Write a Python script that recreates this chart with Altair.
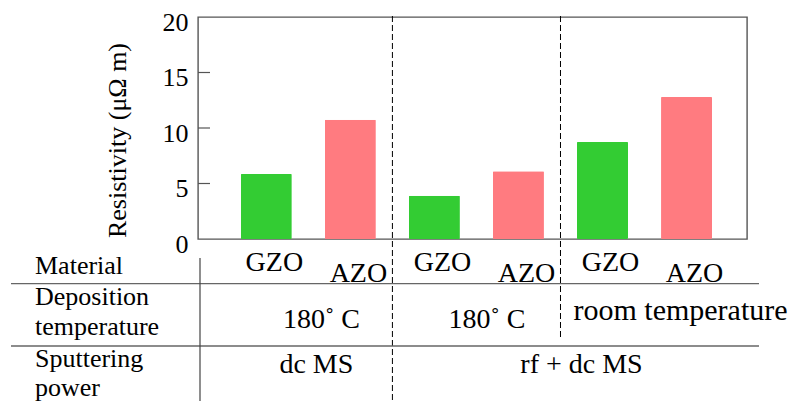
import altair as alt
import pandas as pd

# ---- data ----
positions = [1, 2, 3, 4, 5, 6]
materials = ["GZO", "AZO", "GZO", "AZO", "GZO", "AZO"]
resistivity = [5.85, 10.75, 3.9, 6.1, 8.75, 12.8]
y_ticks = [0, 5, 10, 15, 20]
separators = [2.5, 4.5]
temp_labels = ["180˚ C", "180˚ C", "room temperature"]
temp_centers = [1.5, 3.5, 5.5]
power_labels = ["dc MS", "rf + dc MS"]
power_centers = [1.5, 4.5]

FONT = "'Liberation Serif', 'Times New Roman', 'DejaVu Serif', serif"
W, H = 549, 222

bars_df = pd.DataFrame({"pos": positions, "material": materials, "value": resistivity})
xs = alt.Scale(domain=[0.246, 6.66], nice=False, zero=False)
ys = alt.Scale(domain=[0, 20], nice=False)
pix = alt.Scale(domain=[0, H], range=[0, H], nice=False, zero=False)

bars = alt.Chart(bars_df).mark_bar(size=51, cornerRadius=1).encode(
    x=alt.X("pos:Q", scale=xs, axis=None),
    y=alt.Y("value:Q", scale=ys,
            axis=alt.Axis(values=y_ticks, ticks=False, domain=False, grid=False,
                          labelFont=FONT, labelFontSize=26, labelColor="black",
                          labelPadding=10, labelOffset=5,
                          title="Resistivity (μΩ m)", titleFont=FONT, titleFontSize=26,
                          titleFontWeight="normal", titleColor="black",
                          titleX=-81, titleY=123, titleAngle=270,
                          titleAlign="center", titleBaseline="middle")),
    color=alt.Color("material:N", scale=alt.Scale(domain=["GZO", "AZO"],
                                                  range=["#33CC33", "#FF7B80"]), legend=None),
)

# inward tick marks
ticks_df = pd.DataFrame({"t": [5, 10, 15]})
ticks = alt.Chart(ticks_df).mark_rule(color="#555", strokeWidth=1.2).encode(
    y=alt.Y("t:Q", scale=ys, axis=None), x=alt.value(0), x2=alt.value(12)
)

# dashed separators
sep_df = pd.DataFrame({"x": separators})
sep1 = alt.Chart(sep_df.iloc[[0]]).mark_rule(color="black", strokeWidth=1, strokeDash=[6, 3], clip=False).encode(
    x=alt.X("x:Q", scale=xs), y=alt.value(-1), y2=alt.value(384)
)
sep2 = alt.Chart(sep_df.iloc[[1]]).mark_rule(color="black", strokeWidth=1, strokeDash=[6, 3], clip=False).encode(
    x=alt.X("x:Q", scale=xs), y=alt.value(-1), y2=alt.value(323)
)

# table lines (layout)
hl1 = alt.Chart(pd.DataFrame({"a": [0]})).mark_rule(color="#666", strokeWidth=1.3, clip=False).encode(
    y=alt.value(266.7), x=alt.value(-187), x2=alt.value(561)
)
hl2 = alt.Chart(pd.DataFrame({"a": [0]})).mark_rule(color="#666", strokeWidth=1.3, clip=False).encode(
    y=alt.value(329), x=alt.value(-187), x2=alt.value(561)
)
vline = alt.Chart(pd.DataFrame({"a": [0]})).mark_rule(color="#444", strokeWidth=1.2, clip=False).encode(
    x=alt.value(2), y=alt.value(241), y2=alt.value(384)
)

# material labels
mat_df = bars_df.assign(yb=[253.7 if m == "GZO" else 264.7 for m in materials])
mat_text = alt.Chart(mat_df).mark_text(font=FONT, fontSize=28, baseline="alphabetic",
                                       align="center", dx=8, color="black", clip=False).encode(
    x=alt.X("pos:Q", scale=xs), y=alt.Y("yb:Q", scale=pix, axis=None),
    text="material:N"
)

# row headers
hdr_df = pd.DataFrame({
    "label": ["Material", "Deposition", "temperature", "Sputtering", "power"],
    "yb": [257, 288, 318, 350, 379],
})
hdr = alt.Chart(hdr_df).mark_text(font=FONT, fontSize=26, baseline="alphabetic", align="left",
                                  color="black", clip=False).encode(
    x=alt.value(-163), y=alt.Y("yb:Q", scale=pix, axis=None),
    text="label:N"
)

temp_df = pd.DataFrame({"label": temp_labels, "c": temp_centers, "dx": [13, 10.5, 36],
                        "yb": [311, 311, 303], "fs": [28, 28, 30]})
temp_layers = [
    alt.Chart(temp_df.iloc[[i]]).mark_text(font=FONT, fontSize=int(temp_df.fs[i]),
                                          baseline="alphabetic", align="center",
                                          dx=float(temp_df.dx[i]), color="black", clip=False).encode(
        x=alt.X("c:Q", scale=xs), y=alt.Y("yb:Q", scale=pix, axis=None),
        text="label:N")
    for i in range(3)
]

pow_df = pd.DataFrame({"label": power_labels, "c": power_centers, "dx": [8, 21], "yb": [356, 356]})
pow_layers = [
    alt.Chart(pow_df.iloc[[i]]).mark_text(font=FONT, fontSize=28, baseline="alphabetic", align="center",
                                         dx=float(pow_df.dx[i]), color="black", clip=False).encode(
        x=alt.X("c:Q", scale=xs), y=alt.Y("yb:Q", scale=pix, axis=None),
        text="label:N")
    for i in range(2)
]

chart = alt.layer(bars, ticks, sep1, sep2, hl1, hl2, vline, mat_text, hdr, *temp_layers, *pow_layers).resolve_scale(
    y="independent"
).properties(
    width=W, height=H,
    autosize=alt.AutoSizeParams(type="none"),
    padding={"left": 190, "top": 9, "right": 50, "bottom": 162},
).configure_view(stroke="#555", strokeWidth=1.4)

chart.save("out.html", embed_options={"renderer": "svg", "actions": False})
